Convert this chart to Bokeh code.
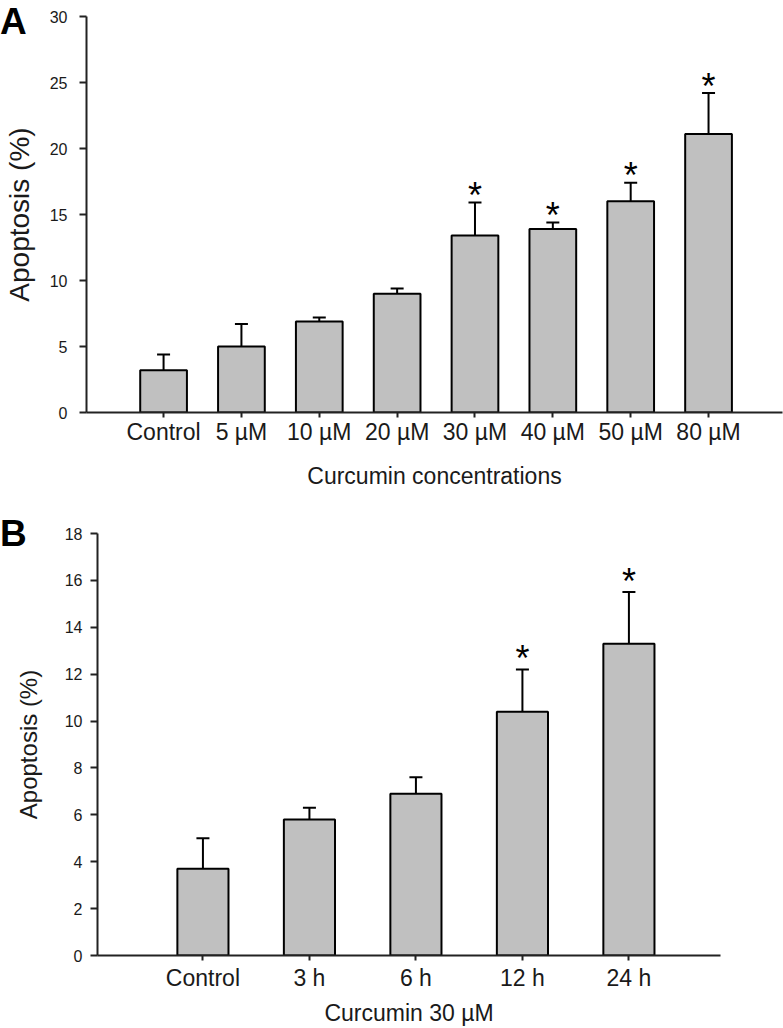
from bokeh.plotting import figure
from bokeh.models import ColumnDataSource, Whisker, TeeHead, Range1d, FixedTicker, Div
from bokeh.layouts import column, row
from bokeh.embed import file_html
from bokeh.resources import INLINE
from bokeh.core.properties import value

# ---- data ----
conc_labels = ["Control", "5 µM", "10 µM", "20 µM", "30 µM", "40 µM", "50 µM", "80 µM"]
conc_mean = [3.2, 5.0, 6.9, 9.0, 13.4, 13.9, 16.0, 21.1]
conc_sem = [1.2, 1.7, 0.3, 0.4, 2.5, 0.5, 1.4, 3.1]
conc_sig = [False, False, False, False, True, True, True, True]
conc_yticks = [0, 5, 10, 15, 20, 25, 30]

time_labels = ["Control", "3 h", "6 h", "12 h", "24 h"]
time_mean = [3.7, 5.8, 6.9, 10.4, 13.3]
time_sem = [1.3, 0.5, 0.7, 1.8, 2.2]
time_sig = [False, False, False, True, True]
time_yticks = [0, 2, 4, 6, 8, 10, 12, 14, 16, 18]

FONT = "Liberation Sans"
INK = "#1a1a1a"


def panel(labels, mean, sem, sig, yticks, xtitle, *, width, height, x_end, bar_w,
          bl, br, bt, bb, ytick_fs, ytitle_fs, star_off,
          y_std, yt_std, x_std, xt_std):
    n = len(labels)
    xs = list(range(n))
    src = ColumnDataSource(dict(x=xs, top=mean,
                                upper=[m + s for m, s in zip(mean, sem)]))
    sx = [i for i in xs if sig[i]]
    star_src = ColumnDataSource(dict(x=sx, y=[mean[i] + sem[i] for i in sx]))

    p = figure(width=width, height=height, output_backend="svg", toolbar_location=None,
               x_range=Range1d(-0.99, x_end), y_range=Range1d(yticks[0], yticks[-1]),
               min_border_left=bl, min_border_right=br, min_border_top=bt,
               min_border_bottom=bb)
    p.outline_line_color = None
    p.grid.visible = False
    p.background_fill_color = "white"

    p.vbar(x="x", top="top", bottom=0, width=bar_w, source=src,
           fill_color="#c0c0c0", line_color="black", line_width=2)
    w = Whisker(base="x", upper="upper", lower="top", source=src,
                upper_head=TeeHead(size=13, line_width=2, line_color="black"),
                lower_head=None, line_width=2, line_color="black")
    p.add_layout(w)
    p.text(x="x", y="y", text=value("*"), source=star_src,
           text_font=value(FONT), text_font_size="36px",
           text_align="center", text_baseline="alphabetic",
           y_offset=star_off, text_color="black")

    # x axis
    xa = p.xaxis[0]
    xa.ticker = FixedTicker(ticks=xs)
    xa.major_label_overrides = {i: lab for i, lab in enumerate(labels)}
    xa.axis_label = xtitle
    xa.major_label_text_font = FONT
    xa.major_label_text_font_size = "23px"
    xa.major_label_text_color = INK
    xa.axis_label_text_font = FONT
    xa.axis_label_text_font_size = "23px"
    xa.axis_label_text_font_style = "normal"
    xa.axis_label_text_color = INK
    xa.major_tick_out = 5
    xa.major_tick_in = 0
    xa.minor_tick_line_color = None
    xa.axis_line_width = 2
    xa.axis_line_color = "#222222"
    xa.major_tick_line_width = 2
    xa.major_tick_line_color = "#222222"
    xa.major_label_standoff = x_std
    xa.axis_label_standoff = xt_std

    # y axis
    ya = p.yaxis[0]
    ya.ticker = FixedTicker(ticks=yticks)
    ya.axis_label = "Apoptosis (%)"
    ya.major_label_text_font = FONT
    ya.major_label_text_font_size = ytick_fs
    ya.major_label_text_color = INK
    ya.axis_label_text_font = FONT
    ya.axis_label_text_font_size = ytitle_fs
    ya.axis_label_text_font_style = "normal"
    ya.axis_label_text_color = INK
    ya.major_tick_out = 7
    ya.major_tick_in = 0
    ya.minor_tick_line_color = None
    ya.axis_line_width = 2
    ya.axis_line_color = "#222222"
    ya.major_tick_line_width = 2
    ya.major_tick_line_color = "#222222"
    ya.major_label_standoff = y_std
    ya.axis_label_standoff = yt_std
    return p


def letter(txt, top):
    return Div(text=txt, width=30, height=44, margin=0,
               styles={"position": "absolute", "left": "0px", "top": f"{top}px",
                       "font-family": FONT, "font-size": "37px", "font-weight": "bold",
                       "line-height": "normal", "color": "black", "z-index": "10"})


pa = panel(conc_labels, conc_mean, conc_sem, conc_sig, conc_yticks,
           "Curcumin concentrations", width=783, height=500, x_end=7.95, bar_w=0.6,
           bl=86, br=1, bt=16, bb=88, ytick_fs="16px", ytitle_fs="28px",
           star_off=-7, y_std=12, yt_std=12, x_std=1, xt_std=15)
pb = panel(time_labels, time_mean, time_sem, time_sig, time_yticks,
           "Curcumin 30 µM", width=783, height=528, x_end=4.86, bar_w=0.48,
           bl=97, br=63, bt=33, bb=73, ytick_fs="16px", ytitle_fs="24px",
           star_off=-11, y_std=8, yt_std=20, x_std=4, xt_std=6)

layout = column(letter("A", 1), letter("B", 513), row(pa), row(pb), spacing=0)
open("out.html", "w").write(file_html(layout, INLINE))
